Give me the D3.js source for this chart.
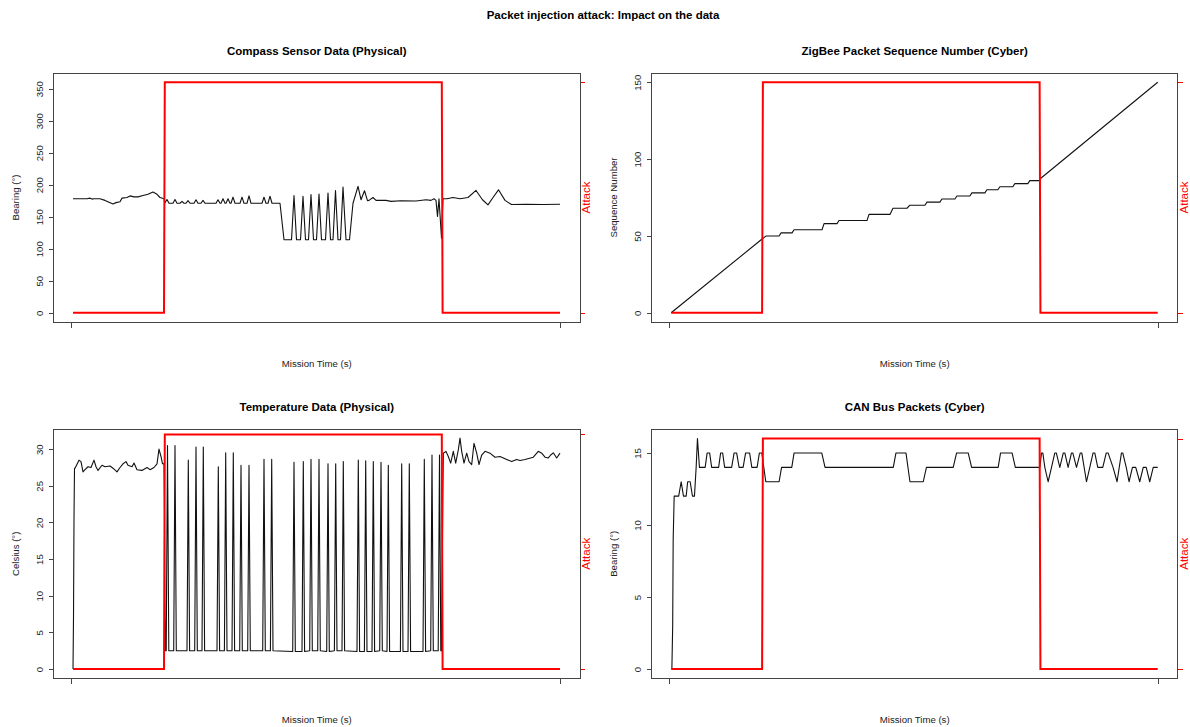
<!DOCTYPE html>
<html>
<head>
<meta charset="utf-8">
<script src="https://cdn.jsdelivr.net/npm/d3@7"></script>
<style>
  body { margin: 0; background: #fff; }
  svg { display: block; font-family: "Liberation Sans", Arial, sans-serif; }
</style>
</head>
<body>
<div id="chart"></div>
<script>
// Attaque par injection de paquets : 4 panneaux (données + état d'attaque)

const mainTitle = "Packet injection attack: Impact on the data";

// Temps de mission (s) -> valeur, sommets
const compassSeries = [
  [2,178],[16,178],[19,179],[21,177.5],[23,178],[29,178],[34,175.5],[42,170],[45,172],[49,173.5],
  [51,179],[56,180],[59,182.5],[63,181],[67,181],[72,183],[77,185],[82,188.5],[86,185],[89,180],[93,178],
  [94,172],[96,177],[98,171],[102,171],[104,177],[106,171],[109,171],[111,174],[113,171],[115,171],
  [117,175],[119,171],[123,171],[125,176.5],[127,171],[130,171],[132,175.5],[134,171],[145,171],
  [147,176.5],[149,171],[150,171],[152,178],[154,171],[155,171],[157,178],[159,171],[160,171],
  [162,180.5],[164,171],[169,171],[171,180.5],[173,171],[176,171],[178,182.5],[180,171],[191,171],
  [193,180.5],[195,171],[197,171],[199,182],[201,171],[209,171],
  [213,114],[220.5,114],[223,183],[225.5,114],[229.5,114],[232,182],[234.5,114],[237.5,114],
  [240,184.5],[242.5,114],[245.5,114],[248,185.5],[250.5,114],[254.5,114],[257,187],[259.5,114],
  [262,114],[264.5,191],[267,114],[269.5,114],[272,196.5],[275,114],[278.5,114],
  [282,171],[287,197.5],[290,176.5],[293.5,190.5],[296.5,175],[298,175.5],[302,180],[305,175.5],
  [315,175.5],[320,174],[330,175],[345,174.5],[355,176.5],[360,175.5],[363,178],[365,175.5],
  [366.5,150.5],[368,178],[370.5,116.5],[372,178],[376,178],[382,180],[389,178],[397,180],
  [405,191],[411.5,176.5],[417,168.5],[422,180],[427.5,192],[434,175.5],[440.5,169],[455,169.5],
  [472,169],[489,169.5]
];

const sequenceSeries = [
  [2,0],[93,48],[97,50],[110,50],[112,52],[123,52],[125,54],[153,54],[155,58],[168,58],[170,60],
  [198,60],[200,64],[221,64],[224,68],[238,68],[241,70],[256,70],[258,72],[271,72],[273,74],
  [286,74],[288,76],[301,76],[303,78],[316,78],[318,80],[329,80],[331,82],[344,82],[346,84],
  [359,84],[361,86],[371,86],[372,87.5],[489,150]
];

const temperatureSeries = [
  [2,0],[2.5,7],[3,20.5],[3.5,27.4],[4,27.4],[8,28.5],[10,28.3],[12,26.9],[14,27.2],[17,27.6],
  [20,27.5],[23,28.5],[25,27.6],[27,27.1],[31,27.8],[34,27.6],[39,27.7],[42,27.4],[46,26.9],
  [49,27.5],[52,28],[55,28.3],[57,27.8],[61,27.6],[63,28.1],[66,27.2],[71,27.1],[76,27.5],
  [79,27.2],[83,27.5],[86,28],[88,30],[90,29],[91.5,28],[93,28],
  [93.5,21.5],[94,7.3],[94.5,2.5],
  [95.2,2.5],[96.5,30.5],[97.8,2.5],[102.7,2.5],[104,30.5],[105.3,2.5],
  [116,2.5],[117.3,28.5],[118.6,2.5],[123.7,2.5],[125,30.3],[126.3,2.5],
  [131,2.5],[132.3,30.3],[133.6,2.5],[146,2.5],[147.3,27.6],[148.6,2.5],
  [153.4,2.5],[154.7,29.5],[156,2.5],[161,2.5],[162.3,29.5],[163.6,2.5],
  [168.7,2.5],[170,27.8],[171.3,2.5],[176.7,2.5],[178,27.8],[179.3,2.5],
  [191.7,2.5],[193,28.6],[194.3,2.5],[199.4,2.5],[200.7,28.6],[202,2.5],
  [221.7,2.4],[223,28.2],[224.3,2.4],[231,2.4],[232.3,28.3],[233.6,2.4],
  [238.7,2.5],[240,28.6],[241.3,2.5],[246.7,2.5],[248,28.6],[249.3,2.5],
  [255.7,2.4],[257,28],[258.3,2.4],[263.4,2.5],[264.7,28],[266,2.5],
  [271,2.5],[272.3,28.3],[273.6,2.5],[286,2.4],[287.3,28.5],[288.6,2.4],
  [293.4,2.4],[294.7,28.4],[296,2.4],[301,2.4],[302.3,28.3],[303.6,2.4],
  [308.7,2.5],[310,28.2],[311.3,2.5],[316,2.4],[317.3,27.8],[318.6,2.4],
  [329.4,2.4],[330.7,28],[332,2.4],[337,2.4],[338.3,28],[339.6,2.4],
  [352,2.4],[353.3,28.6],[354.6,2.4],[359.7,2.5],[361,29.2],[362.3,2.5],
  [367.2,2.5],[368.5,29.2],[369.8,2.5],[370.5,2.5],[371.3,15],
  [372.3,29.45],[375,29.7],[377.3,29],[379.7,28.1],[382.3,29.7],[384.7,28.1],[387.3,29.9],
  [389,31.5],[390.7,29.7],[393,28.1],[395.7,29.45],[398,28.3],[400.7,27.9],[403,30.8],
  [405.7,29.45],[408,27.9],[410.7,29.2],[414,29.7],[419,29.45],[424,28.9],[429,29],
  [435.7,28.6],[440.7,28.3],[445.7,28.6],[449,28.45],[454,28.6],[462.3,28.9],[467.3,29.7],
  [470.7,29.45],[474,28.9],[477.3,28.8],[479.7,29.2],[482.3,29.5],[485.7,28.8],[489,29.45]
];

const canSeries = [
  [2.7,0],[3.5,3],[4,9],[5,12],[9.5,12],[12,13],[14.3,12],[17,12],[18.5,13],[21,13],[23.3,12],
  [25.3,12],[27,14],[28.3,16],[30.3,14],[36,14],[38,15],[40.5,15],[42.5,14],[49.5,14],[51.5,15],
  [53.5,15],[55.5,14],[62.5,14],[65,15],[67.5,15],[70,14],[74,14],[76.5,15],[80.5,15],[82.7,14],
  [88,14],[90.3,15],[92.7,15],[96.7,13],[110,13],[112.5,14],[122.7,14],[125,15],[152.7,15],
  [156,14],[224.3,14],[227,15],[237,15],[241,13],[254.3,13],[257.5,14],[284.3,14],[287.7,15],
  [299.3,15],[302.7,14],[329.3,14],[331.7,15],[343.2,15],[346.5,14],[371,14],
  [372.7,15],[374,15],[376,14],[379.3,13],[382.7,14],[386,15],[387.5,15],[391,14],[394.5,15],
  [396,15],[399.3,14],[402.7,15],[404,15],[407.7,14],[411.5,15],[413,15],[417.7,13],[421,14],
  [424.3,15],[426,15],[429,14],[434,14],[437.5,15],[439.3,15],[444.3,14],[448.3,13],[452.7,15],
  [454,15],[457.5,14],[460.3,13],[463.7,14],[467,14],[471,13],[474.5,14],[477.5,14],[481,13],
  [484.5,14],[489,14]
];

// État d'attaque (0 = non, 1 = oui)
const attackSeries = [[2,0],[93,0],[93.8,1],[370.8,1],[371.6,0],[489,0]];

// Graduations
const compassTicks = [0, 50, 100, 150, 200, 250, 300, 350];
const sequenceTicks = [0, 50, 100, 150];
const temperatureTicks = [0, 5, 10, 15, 20, 25, 30];
const canTicks = [0, 5, 10, 15];
const timeTicks = [0, 489];

const panels = [
  { title: "Compass Sensor Data (Physical)", yLabel: "Bearing (\u00b0)", series: compassSeries,
    yRange: [0, 360], ticks: compassTicks, attackLevel: 360 },
  { title: "ZigBee Packet Sequence Number (Cyber)", yLabel: "Sequence Number", series: sequenceSeries,
    yRange: [0, 150], ticks: sequenceTicks, attackLevel: 150 },
  { title: "Temperature Data (Physical)", yLabel: "Celsius (\u00b0)", series: temperatureSeries,
    yRange: [0, 31.45], ticks: temperatureTicks, attackLevel: 32 },
  { title: "CAN Bus Packets (Cyber)", yLabel: "Bearing (\u00b0)", series: canSeries,
    yRange: [0, 16], ticks: canTicks, attackLevel: 16 }
];

const W = 1190, H = 727;
const cols = [{ left: 53.5, right: 580 }, { left: 651.7, right: 1177.7 }];
const rows = [{ top: 73, bottom: 322 }, { top: 429.3, bottom: 678.3 }];
const timeDomain = [-17.5, 509];

const svg = d3.select("#chart").append("svg")
  .attr("width", W)
  .attr("height", H);

svg.append("rect").attr("width", W).attr("height", H).attr("fill", "#fff");

svg.append("text")
  .attr("x", 603)
  .attr("y", 19)
  .attr("text-anchor", "middle")
  .style("font-size", "11.5px")
  .style("font-weight", "bold")
  .attr("fill", "#000")
  .text(mainTitle);

panels.forEach((p, i) => drawPanel(p, cols[i % 2], rows[Math.floor(i / 2)]));

function drawPanel(p, col, row) {
  const g = svg.append("g");
  const midY = (row.top + row.bottom) / 2;
  const midX = (col.left + col.right) / 2;

  const x = d3.scaleLinear().domain(timeDomain).range([col.left, col.right]);
  const pad = (p.yRange[1] - p.yRange[0]) * 0.04;
  const y = d3.scaleLinear()
    .domain([p.yRange[0] - pad, p.yRange[1] + pad])
    .range([row.bottom, row.top]);

  // Axe Y gauche
  const yAxis = g.append("g")
    .attr("transform", `translate(${col.left},0)`)
    .call(d3.axisLeft(y).tickValues(p.ticks).tickSize(5).tickFormat(d3.format("d")))
    .attr("font-family", null)
    .attr("font-size", null);
  yAxis.select(".domain").remove();
  yAxis.selectAll("line").attr("stroke", "#444").attr("shape-rendering", "crispEdges");
  yAxis.selectAll("text")
    .attr("transform", "rotate(-90)")
    .attr("x", 0)
    .attr("y", -11)
    .attr("dy", 0)
    .attr("text-anchor", "middle")
    .attr("fill", "#222")
    .style("font-size", "9.6px");

  // Axe X : deux graduations sans libellé
  const xAxis = g.append("g")
    .attr("transform", `translate(0,${row.bottom})`)
    .call(d3.axisBottom(x).tickValues(timeTicks).tickSize(6).tickFormat(""));
  xAxis.select(".domain").remove();
  xAxis.selectAll("line").attr("stroke", "#444").attr("shape-rendering", "crispEdges");

  // Axe droit (attaque)
  const rAxis = g.append("g")
    .attr("transform", `translate(${col.right},0)`)
    .call(d3.axisRight(y).tickValues([0, p.attackLevel]).tickSize(5).tickFormat(""));
  rAxis.select(".domain").remove();
  rAxis.selectAll("line").attr("stroke", "#f00").attr("shape-rendering", "crispEdges");

  // Cadre
  g.append("rect")
    .attr("x", col.left)
    .attr("y", row.top)
    .attr("width", col.right - col.left)
    .attr("height", row.bottom - row.top)
    .attr("fill", "none")
    .attr("stroke", "#444")
    .attr("shape-rendering", "crispEdges");

  const line = d3.line().x(d => x(d[0])).y(d => y(d[1]));

  // Données
  g.append("path")
    .datum(p.series)
    .attr("d", line)
    .attr("fill", "none")
    .attr("stroke", "#111")
    .attr("stroke-width", 1.1)
    .attr("stroke-linejoin", "round");

  // Attaque
  g.append("path")
    .datum(attackSeries.map(d => [d[0], d[1] * p.attackLevel]))
    .attr("d", line)
    .attr("fill", "none")
    .attr("stroke", "#f00")
    .attr("stroke-width", 2);

  // Textes
  g.append("text")
    .attr("x", midX)
    .attr("y", row.top - 18)
    .attr("text-anchor", "middle")
    .style("font-size", "11.5px")
    .style("font-weight", "bold")
    .text(p.title);

  g.append("text")
    .attr("x", midX)
    .attr("y", row.bottom + 45)
    .attr("text-anchor", "middle")
    .attr("fill", "#222")
    .style("font-size", "9.6px")
    .text("Mission Time (s)");

  g.append("text")
    .attr("transform", `translate(${col.left - 35},${midY}) rotate(-90)`)
    .attr("text-anchor", "middle")
    .attr("fill", "#222")
    .style("font-size", "9.6px")
    .text(p.yLabel);

  g.append("text")
    .attr("transform", `translate(${col.right + 10},${midY}) rotate(-90)`)
    .attr("text-anchor", "middle")
    .attr("fill", "#f00")
    .style("font-size", "11.5px")
    .text("Attack");
}
</script>
</body>
</html>
